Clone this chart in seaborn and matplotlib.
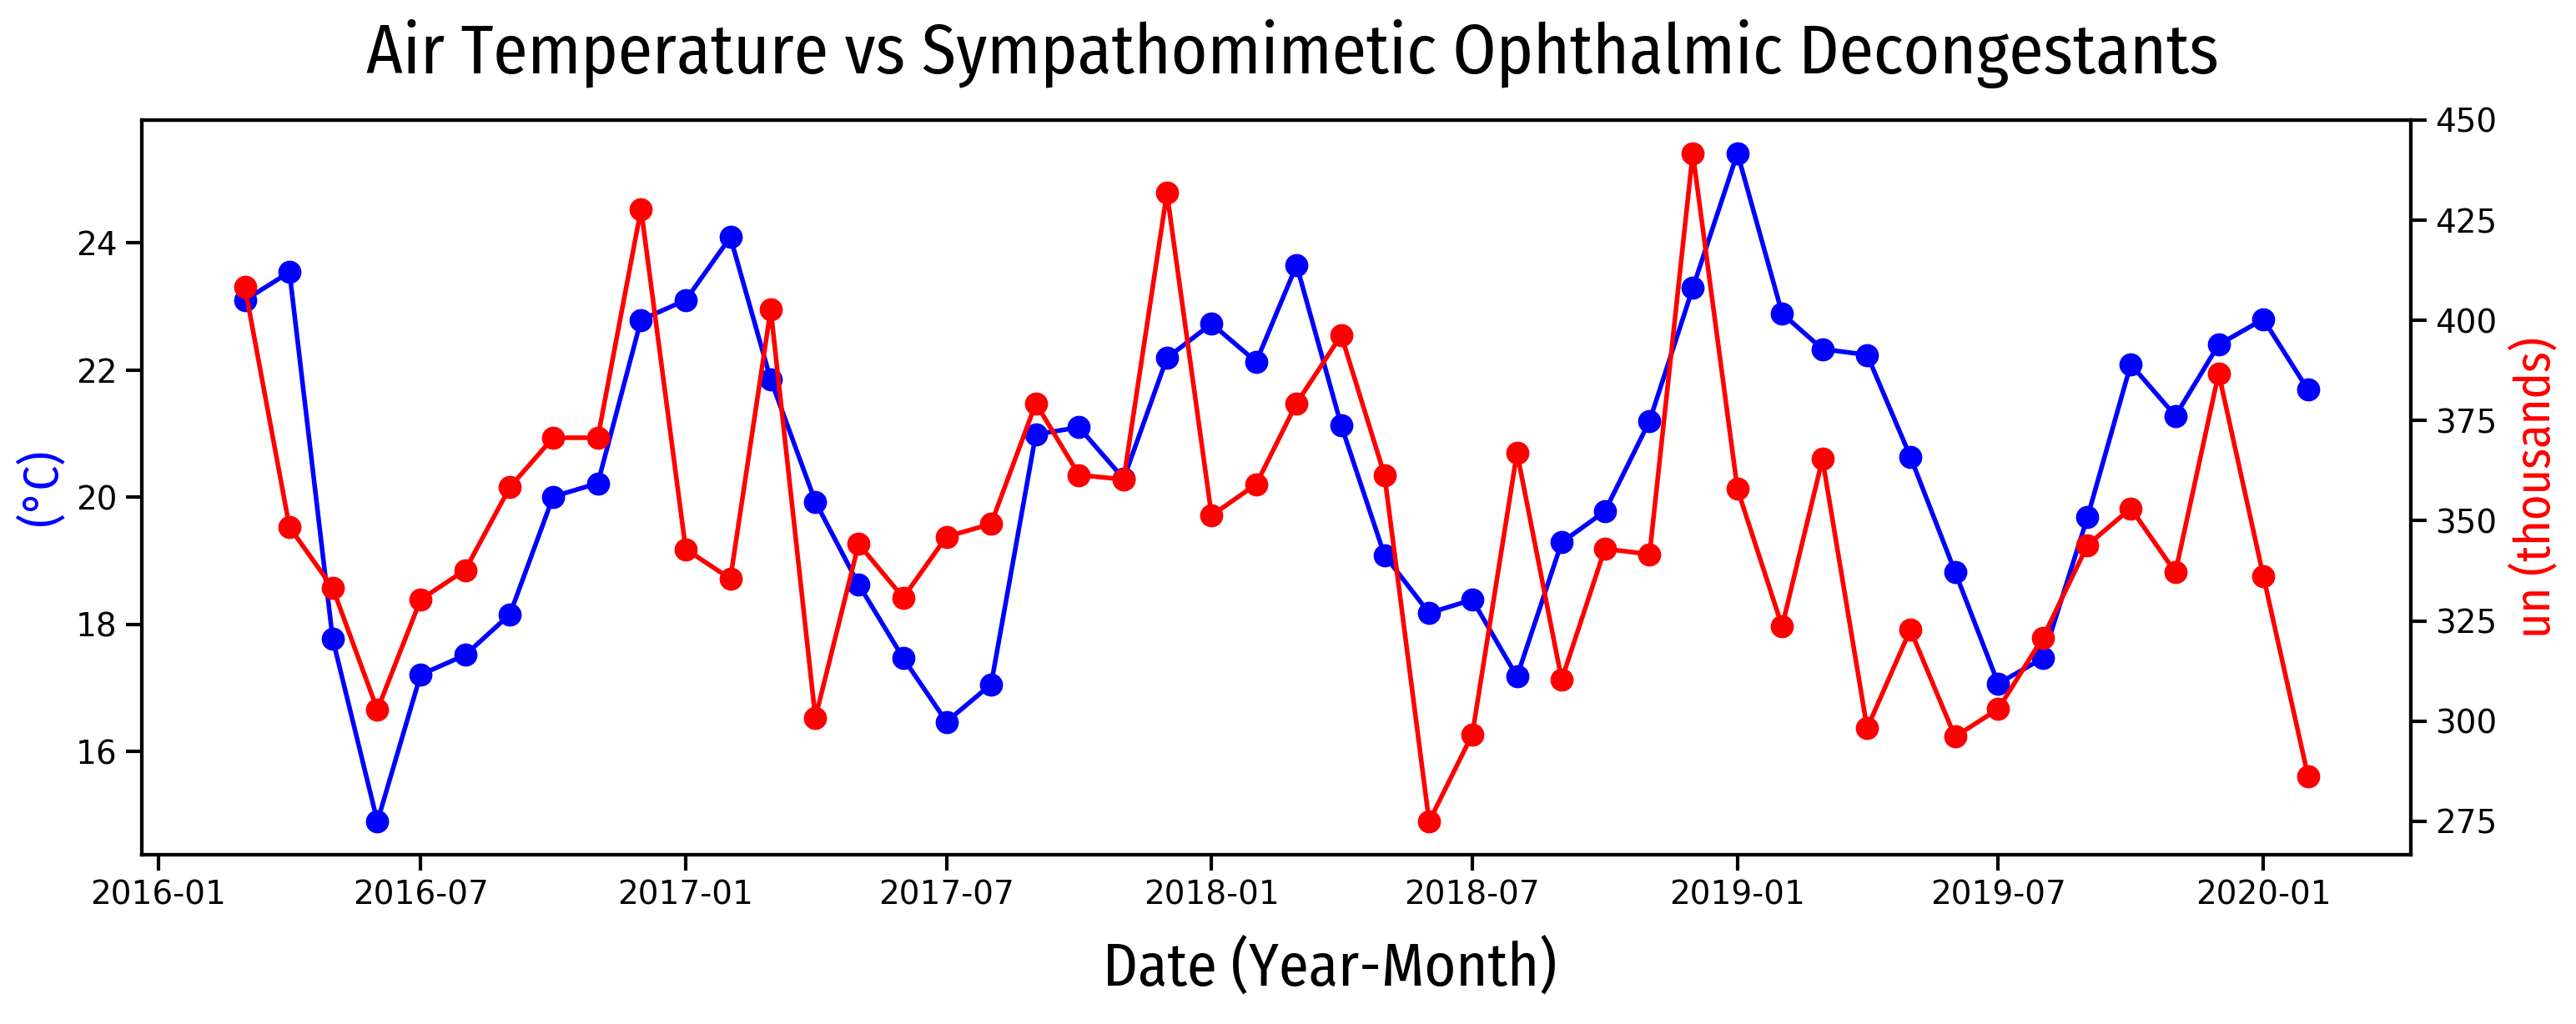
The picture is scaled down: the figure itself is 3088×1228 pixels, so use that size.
import pandas as pd
import seaborn as sns
import matplotlib.pyplot as plt
import matplotlib.dates as mdates

months = pd.date_range("2016-03-01", "2020-02-01", freq="MS")

temperature = [23.10, 23.54, 17.77, 14.90, 17.21, 17.52, 18.16, 20.01, 20.22, 22.79,
               23.10, 24.09, 21.85, 19.93, 18.63, 17.47, 16.47, 17.06, 20.99, 21.10,
               20.29, 22.19, 22.73, 22.13, 23.65, 21.13, 19.09, 18.18, 18.39, 17.18,
               19.29, 19.78, 21.20, 23.29, 25.41, 22.89, 22.33, 22.24, 20.64, 18.83,
               17.07, 17.47, 19.69, 22.09, 21.28, 22.40, 22.80, 21.69]

units = [408.4, 348.4, 333.2, 302.8, 330.3, 337.7, 358.4, 370.7, 370.7, 427.8,
         342.9, 335.5, 402.7, 300.8, 344.2, 330.8, 346.0, 349.2, 379.3, 361.4,
         360.3, 431.8, 351.3, 359.1, 379.3, 396.3, 361.4, 274.9, 296.7, 367.0,
         310.3, 343.0, 341.6, 441.7, 357.9, 323.6, 365.4, 298.2, 322.8, 296.1,
         303.0, 320.8, 343.9, 353.1, 337.1, 386.8, 336.2, 286.3]

df = pd.DataFrame({"Date": months, "Temperature": temperature, "Units": units})

sns.set_style("ticks")
plt.rcParams["font.family"] = ["DejaVu Sans"]
plt.rcParams["text.color"] = "black"
plt.rcParams["axes.labelcolor"] = "black"
plt.rcParams["xtick.color"] = "black"
plt.rcParams["ytick.color"] = "black"
label_font = ["Fira Sans Condensed", "Roboto Condensed", "Liberation Sans Narrow", "DejaVu Sans"]

fig, ax = plt.subplots(figsize=(15.44, 6.14), dpi=200)
fig.subplots_adjust(left=0.055, right=0.936, top=0.883, bottom=0.165)

sns.lineplot(data=df, x="Date", y="Temperature", ax=ax, color="blue",
             marker="o", markersize=10, markeredgewidth=0, linewidth=2)
ax2 = ax.twinx()
sns.lineplot(data=df, x="Date", y="Units", ax=ax2, color="red",
             marker="o", markersize=10, markeredgewidth=0, linewidth=2)

ax.set_title("Air Temperature vs Sympathomimetic Ophthalmic Decongestants",
             fontsize=30, family=label_font, pad=20, x=0.507, color="black")
ax.set_xlabel("Date (Year-Month)", fontsize=26, family=label_font, labelpad=12)
ax.xaxis.label.set_x(0.5235)
ax.set_ylabel("(°C)", fontsize=21, color="blue", family=label_font, labelpad=4)
ax2.set_ylabel("un (thousands)", fontsize=21, color="red", family=label_font, labelpad=6)

ax.set_yticks([16, 18, 20, 22, 24])
ax2.set_yticks([275, 300, 325, 350, 375, 400, 425, 450])
ax.xaxis.set_major_locator(mdates.MonthLocator(bymonth=[1, 7]))
ax.xaxis.set_major_formatter(mdates.DateFormatter("%Y-%m"))

for a in (ax, ax2):
    a.tick_params(axis="both", labelsize=14, width=1.5, length=7, colors="black")
    for s in a.spines.values():
        s.set_linewidth(1.5)
        s.set_color("black")
        s.set_visible(True)

fig.savefig("out.png", dpi=200)
